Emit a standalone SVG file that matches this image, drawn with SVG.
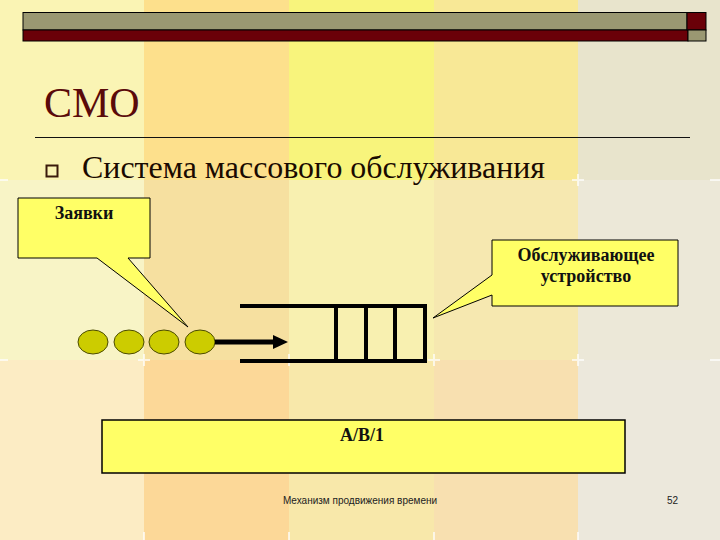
<svg xmlns="http://www.w3.org/2000/svg" width="720" height="540" viewBox="0 0 720 540">
<style>
.serif{font-family:"Liberation Serif","Times New Roman",serif}
.call{fill:#ffff66;stroke:#000;stroke-width:1}
.lbl{font-family:"Liberation Serif","Times New Roman",serif;font-weight:bold;font-size:18px;fill:#111;text-anchor:middle}
.ball{fill:#cccc00;stroke:#4a4a00;stroke-width:1}
.q{stroke:#000;stroke-width:4;fill:none}
.foot{font-family:"Liberation Sans",Arial,sans-serif;font-size:10px;fill:#222}
.cross{stroke:#ffffff;stroke-width:2;opacity:0.7}
</style>
<g id="background">
<rect x="0" y="0" width="144" height="180" fill="#faf4b4"/>
<rect x="144" y="0" width="145" height="180" fill="#fde08c"/>
<rect x="289" y="0" width="145" height="180" fill="#f8f47c"/>
<rect x="434" y="0" width="144" height="180" fill="#f8e896"/>
<rect x="578" y="0" width="142" height="180" fill="#e8e4cc"/>
<rect x="0" y="180" width="144" height="180" fill="#f8f4c6"/>
<rect x="144" y="180" width="145" height="180" fill="#f6e0a0"/>
<rect x="289" y="180" width="145" height="180" fill="#f8f0b0"/>
<rect x="434" y="180" width="144" height="180" fill="#f6e8b0"/>
<rect x="578" y="180" width="142" height="180" fill="#ece8d8"/>
<rect x="0" y="360" width="144" height="180" fill="#fcecc4"/>
<rect x="144" y="360" width="145" height="180" fill="#fcd898"/>
<rect x="289" y="360" width="145" height="180" fill="#f8e8aa"/>
<rect x="434" y="360" width="144" height="180" fill="#f8e0b0"/>
<rect x="578" y="360" width="142" height="180" fill="#ece8dc"/>
<g class="cross">
<path d="M572,180 H584 M578,174 V186"/>
<path d="M710,180 H720"/>
<path d="M0,180 H8"/>
<path d="M0,360 H8 M138,360 H150 M144,354 V366 M283,360 H295 M289,354 V366 M428,360 H440 M434,354 V366 M572,360 H584 M578,354 V366 M710,360 H720"/>
<path d="M144,532 V540 M289,532 V540 M434,532 V540 M578,532 V540"/>
</g>
</g>
<g id="topbar">
<rect x="23" y="12.5" width="664" height="17.5" fill="#9a9872" stroke="#000" stroke-width="1"/>
<rect x="23" y="30" width="665" height="11" fill="#6a0008" stroke="#000" stroke-width="1"/>
<rect x="687" y="12.5" width="19" height="17.5" fill="#6a0008" stroke="#000" stroke-width="1"/>
<rect x="688" y="30" width="18" height="11" fill="#9a9872" stroke="#000" stroke-width="1"/>
</g>
<g id="title">
<text x="44" y="117" class="serif" font-size="42" fill="#5a0a0a">СМО</text>
<line x1="35" y1="137.5" x2="690" y2="137.5" stroke="#111" stroke-width="1"/>
</g>
<g id="bullet">
<rect x="46.5" y="165.5" width="11" height="11" fill="none" stroke="#3a1a0a" stroke-width="2"/>
<text x="82" y="178" class="serif" font-size="31" fill="#1a0a00" textLength="463" lengthAdjust="spacingAndGlyphs">Система массового обслуживания</text>
</g>
<g id="zayavki">
<path class="call" d="M18,198 H150 V258 H128 L188,327 L97,258 H18 Z"/>
<text x="84" y="219" class="lbl">Заявки</text>
</g>
<g id="device">
<path class="call" d="M492,240 H678 V306 H492 V295 L433,318 L492,275 Z"/>
<text x="586" y="261" class="lbl">Обслуживающее</text>
<text x="586" y="282" class="lbl">устройство</text>
</g>
<g id="requests">
<ellipse class="ball" cx="93" cy="342" rx="15" ry="12"/>
<ellipse class="ball" cx="129" cy="342" rx="15" ry="12"/>
<ellipse class="ball" cx="164" cy="342" rx="15" ry="12"/>
<ellipse class="ball" cx="200" cy="342" rx="15" ry="12"/>
</g>
<g id="queue">
<path class="q" d="M240,306 H427 M240,361 H427 M425,304 V363 M336,306 V361 M366,306 V361 M395,306 V361"/>
</g>
<g id="connectors">
<line x1="215" y1="342" x2="276" y2="342" stroke="#000" stroke-width="5"/>
<polygon points="273,335 288,342 273,349" fill="#000"/>
</g>
<g id="model">
<rect x="102" y="420" width="523" height="53" fill="#ffff66" stroke="#000" stroke-width="1.5"/>
<text x="362" y="441" class="lbl">A/B/1</text>
</g>
<g id="footer">
<text x="360" y="504" class="foot" text-anchor="middle">Механизм продвижения времени</text>
<text x="667" y="504" class="foot">52</text>
</g>
</svg>
